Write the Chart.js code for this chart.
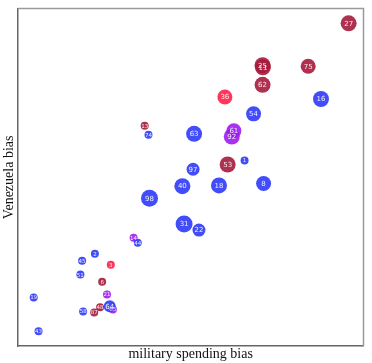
<!DOCTYPE html>
<html>
<head>
<meta charset="utf-8">
<script src="https://cdn.jsdelivr.net/npm/chart.js@4.4.1/dist/chart.umd.min.js"></script>
<style>
  html, body { margin: 0; padding: 0; background: #fff; }
</style>
</head>
<body>
<canvas id="bias" width="372" height="363"></canvas>
<script>
// one entry per bubble
const ids = ['27', '25', '11', '75', '62', '36', '16', '54', '63', '61', '92', '1', '53', '97', '40', '18', '8', '98', '31', '22',
             '13', '74', '14', '44', '2', '45', '3', '51', '6', '21', '65', '64', '48', '87', '58', '19', '43'];
const militaryBias = [95.7, 70.8, 70.9, 84.0, 70.8, 59.9, 87.7, 68.2, 51.0, 62.5, 61.9, 65.6, 60.7, 50.7, 47.6, 58.2, 71.1, 38.1, 48.1, 52.4,
                      36.7, 37.8, 33.5, 34.7, 22.3, 18.6, 26.9, 18.1, 24.4, 25.8, 27.5, 26.6, 23.8, 22.1, 18.9, 4.6, 6.0];
const venezuelaBias = [95.6, 83.2, 82.6, 82.9, 77.4, 73.8, 73.2, 68.8, 62.9, 63.8, 62.1, 55.0, 53.8, 52.4, 47.4, 47.6, 48.2, 43.8, 36.2, 34.4,
                       65.3, 62.6, 32.1, 30.6, 27.4, 25.3, 24.1, 21.2, 19.1, 15.3, 10.9, 11.8, 11.5, 10.0, 10.3, 14.4, 4.4];
const weight = [8, 8, 8, 7.5, 8, 7.5, 8, 7.5, 8, 7.5, 8, 4, 8, 6.5, 8, 8, 7.5, 8.5, 8.5, 6.5,
                4, 4, 4, 4, 4, 4, 4, 4, 4, 4, 4, 6, 4, 4, 4, 4, 4];
const group = ['C', 'C', 'C', 'C', 'C', 'R', 'B', 'B', 'B', 'P', 'P', 'B', 'C', 'B', 'B', 'B', 'B', 'B', 'B', 'B',
               'C', 'B', 'P', 'B', 'B', 'B', 'R', 'B', 'C', 'P', 'P', 'B', 'C', 'C', 'B', 'B', 'B'];

const groupColors = {
  B: 'rgba(50, 62, 248, 0.92)',
  C: 'rgba(165, 28, 60, 0.9)',
  R: 'rgba(255, 36, 78, 0.92)',
  P: 'rgba(158, 28, 240, 0.9)'
};

// white number in the middle of each bubble
const bubbleLabels = {
  id: 'bubbleLabels',
  afterDatasetsDraw(chart) {
    const ctx = chart.ctx;
    const meta = chart.getDatasetMeta(0);
    ctx.save();
    ctx.fillStyle = 'rgba(255,255,255,0.9)';
    ctx.textAlign = 'center';
    ctx.textBaseline = 'middle';
    meta.data.forEach((pt, i) => {
      const size = weight[i] >= 6 ? 7 : 5.5;
      ctx.font = size + 'px "DejaVu Sans", sans-serif';
      ctx.fillText(ids[i], pt.x, pt.y + 0.5);
    });
    ctx.restore();
  }
};

// light frame on top and right
const frame = {
  id: 'frame',
  afterDraw(chart) {
    const { ctx, chartArea: a } = chart;
    ctx.save();
    ctx.strokeStyle = '#9a9a9a';
    ctx.lineWidth = 1.5;
    ctx.beginPath();
    ctx.moveTo(a.left, a.top);
    ctx.lineTo(a.right, a.top);
    ctx.lineTo(a.right, a.bottom);
    ctx.stroke();
    ctx.restore();
  }
};

const titleFont = { family: '"Liberation Serif", "Times New Roman", serif', size: 14 };

new Chart(
  document.getElementById('bias'),
  {
    type: 'bubble',
    data: {
      datasets: [
        {
          label: 'bias',
          data: ids.map((id, i) => ({ x: militaryBias[i], y: venezuelaBias[i], r: weight[i] })),
          backgroundColor: group.map(g => groupColors[g]),
          borderWidth: 0
        }
      ]
    },
    options: {
      responsive: false,
      animation: false,
      layout: { padding: { top: 7, right: 6, left: 1, bottom: 0 } },
      plugins: {
        legend: { display: false },
        tooltip: { enabled: false }
      },
      scales: {
        x: {
          min: 0,
          max: 100,
          ticks: { display: false },
          grid: { display: false, drawTicks: false },
          border: { color: '#666', width: 1.5 },
          title: { display: true, text: 'military spending bias', color: '#111', font: titleFont, padding: { top: 0, bottom: 0 } }
        },
        y: {
          min: 0,
          max: 100,
          ticks: { display: false },
          grid: { display: false, drawTicks: false },
          border: { color: '#666', width: 1.5 },
          title: { display: true, text: 'Venezuela bias', color: '#111', font: titleFont, padding: { top: 0, bottom: 0 } }
        }
      }
    },
    plugins: [bubbleLabels, frame]
  }
);
</script>
</body>
</html>
